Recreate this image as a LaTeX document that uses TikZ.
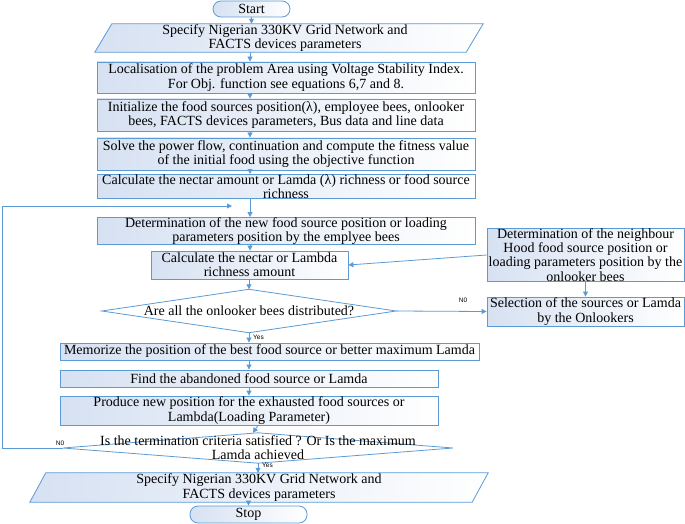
\documentclass[tikz,border=0pt]{standalone}
\usepackage{fontspec}
\setmainfont{Liberation Serif}
\newfontfamily\labfont{Liberation Sans}
\usetikzlibrary{arrows.meta}
\definecolor{ln}{RGB}{91,155,213}
\definecolor{bf}{RGB}{214,225,242}
\begin{document}
\begin{tikzpicture}[x=1pt,y=-1pt,
  txt/.style={inner sep=0pt, align=center, font=\fontsize{14}{14.2}\selectfont},
  box/.style={txt, draw=ln, line width=0.8pt, left color=bf, right color=white},
  shp/.style={draw=ln, line width=0.8pt, left color=bf, right color=white},
  dshp/.style={draw=ln, line width=0.8pt, fill=white},
  arr/.style={draw=ln, line width=0.8pt, -{Triangle[length=5pt,width=5pt]}},
  lab/.style={inner sep=0pt, font=\labfont\fontsize{6.5}{7}\selectfont}]
\useasboundingbox (0,0) rectangle (685,524);
\coordinate (spine) at (250,0);

% terminals
\node[box, rounded corners=8pt, minimum width=77pt, minimum height=16pt] (start) at (251.5,9) {Start};

% parallelogram 1
\node[txt, minimum width=388pt, minimum height=28pt] (p1) at (289,38) {};
\path[shp] ([xshift=17pt]p1.north west) -- (p1.north east) -- ([xshift=-17pt]p1.south east) -- (p1.south west) -- cycle;
\node[txt] at ([xshift=-4pt]p1.center) {Specify Nigerian 330KV Grid Network and\\FACTS devices parameters};

\node[box, minimum width=378pt, minimum height=31pt] (b2) at (286,77.5) {Localisation of the problem Area using Voltage Stability Index.\\For Obj. function see equations 6,7 and 8.};
\node[box, minimum width=378pt, minimum height=32pt] (b3) at (286,115) {Initialize the food sources position(λ), employee bees, onlooker\\bees, FACTS devices parameters, Bus data and line data};
\node[box, minimum width=378pt, minimum height=32pt] (b4) at (286,154) {Solve the power flow, continuation and compute the fitness value\\of the initial food using the objective function};
\node[box, minimum width=378pt, minimum height=24pt] (b5) at (286,186.5) {Calculate the nectar amount or Lamda (λ) richness or food source\\richness};
\node[box, minimum width=378pt, minimum height=24pt] (b6) at (286,231) {Determination of the new food source position or loading\\parameters position by the emplyee bees};
\node[box, minimum width=197pt, minimum height=28pt] (b7) at (249.5,265) {Calculate the nectar or Lambda\\richness amount};
\node[box, minimum width=197pt, minimum height=50pt] (b8) at (585.5,255) {Determination of the neighbour\\Hood food source position or\\loading parameters position by the\\onlooker bees};
\node[box, minimum width=197pt, minimum height=29pt] (b9) at (585.5,311.5) {Selection of the sources or Lamda\\by the Onlookers};

% diamond 1
\node[txt, minimum width=294pt, minimum height=43pt] (d1) at (249,311) {};
\path[dshp] (d1.north) -- (d1.east) -- (d1.south) -- (d1.west) -- cycle;
\node[txt] at (d1) {Are all the onlooker bees distributed?};

\node[box, minimum width=419pt, minimum height=17pt] (b10) at (269.5,351.5) {Memorize the position of the best food source or better maximum Lamda};
\node[box, minimum width=378pt, minimum height=17pt] (b11) at (249,378.5) {Find the abandoned food source or Lamda};
\node[box, minimum width=378pt, minimum height=29pt] (b12) at (249,410.5) {Produce new position for the exhausted food sources or\\Lambda(Loading Parameter)};

% diamond 2
\node[txt, minimum width=390pt, minimum height=30pt] (d2) at (258,448) {};
\path[dshp] (d2.north) -- (d2.east) -- (d2.south) -- (d2.west) -- cycle;
\node[txt] at (d2) {Is the termination criteria satisfied ? Or Is the maximum\\Lamda achieved};

% parallelogram 2
\node[txt, minimum width=458pt, minimum height=29pt] (p2) at (259,487.5) {};
\path[shp] ([xshift=16pt]p2.north west) -- (p2.north east) -- ([xshift=-16pt]p2.south east) -- (p2.south west) -- cycle;
\node[txt] at (p2) {Specify Nigerian 330KV Grid Network and\\FACTS devices parameters};

\node[box, rounded corners=8pt, minimum width=117pt, minimum height=17pt] (stop) at (248.5,514.5) {Stop};

% connectors
\draw[arr] (start.south) -- (start.south |- p1.north);
\draw[arr] (p1.south -| spine) -- (b2.north -| spine);
\draw[arr] (b2.south -| spine) -- (b3.north -| spine);
\draw[arr] (b3.south -| spine) -- (b4.north -| spine);
\draw[arr] (b4.south -| spine) -- (b5.north -| spine);
\draw[arr] (b5.south -| spine) -- (b6.north -| spine);
\draw[arr] (b6.south -| spine) -- (b7.north -| spine);
\draw[arr] (b7.south -| d1.north) -- (d1.north);
\draw[arr] (d1.south) -- (d1.south |- b10.north);
\node[lab, anchor=west] at (253,337) {Yes};
\draw[arr] (d1.east) -- (b9.west);
\node[lab] at (463,300) {N0};
\draw[arr] (b8.south) -- (b9.north);
\draw[arr] (b8.west) -- (b7.east);
\draw[arr] (b10.south -| d1.south) -- (b11.north -| d1.south);
\draw[arr] (b11.south -| b11.north) -- (b12.north);
\draw[arr] (b12.south -| d2.north) -- ([xshift=-5pt]d2.north);
\draw[arr] (d2.south) -- (d2.south |- p2.north);
\node[lab, anchor=west] at (262,465) {Yes};
\draw[arr] (p2.south -| stop.north) -- (stop.north);
\coordinate (lc) at (2,206);
\coordinate (le) at (232,206);
\draw[arr] (d2.west) -- (d2.west -| lc) -- (lc) -- (le);
\node[lab] at (60,443) {N0};
\end{tikzpicture}
\end{document}
